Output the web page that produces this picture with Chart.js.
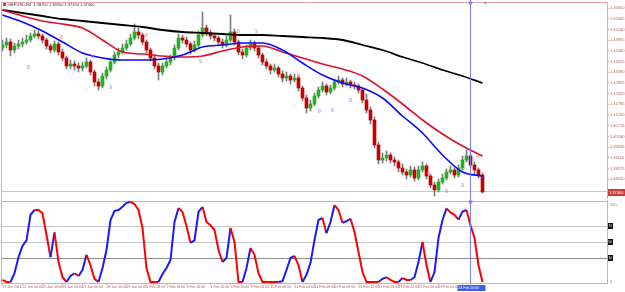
<!DOCTYPE html>
<html>
<head>
<meta charset="utf-8">
<script src="https://cdn.jsdelivr.net/npm/chart.js@4.4.1/dist/chart.umd.min.js"></script>
<style>
  html, body { margin: 0; padding: 0; background: #fff; }
  #wrap { position: relative; width: 625px; height: 292px; overflow: hidden; }
  canvas { position: absolute; left: 0; }
  #priceCanvas { top: 0; }
  #stochCanvas { top: 199px; }
</style>
</head>
<body>
<div id="wrap">
  <canvas id="priceCanvas" width="625" height="199"></canvas>
  <canvas id="stochCanvas" width="625" height="93"></canvas>
</div>
<script>
// H4 candles, one per index
const candleOpens = [
  1.4460, 1.4475, 1.4490, 1.4450, 1.4470, 1.4480, 1.4490, 1.4500, 1.4520, 1.4530,
  1.4520, 1.4500, 1.4470, 1.4450, 1.4480, 1.4440, 1.4410, 1.4370, 1.4380, 1.4370,
  1.4360, 1.4370, 1.4390, 1.4340, 1.4290, 1.4270, 1.4320, 1.4350, 1.4390, 1.4425,
  1.4440, 1.4460, 1.4480, 1.4510, 1.4540, 1.4525, 1.4490, 1.4450, 1.4410, 1.4370,
  1.4340, 1.4370, 1.4390, 1.4410, 1.4460, 1.4510, 1.4500, 1.4480, 1.4450, 1.4475,
  1.4525, 1.4560, 1.4535, 1.4520, 1.4510, 1.4490, 1.4475, 1.4500, 1.4540, 1.4490,
  1.4440, 1.4425, 1.4460, 1.4480, 1.4460, 1.4425, 1.4390, 1.4370, 1.4350, 1.4360,
  1.4330, 1.4310, 1.4320, 1.4300, 1.4310, 1.4260, 1.4210, 1.4160, 1.4180, 1.4220,
  1.4250, 1.4270, 1.4240, 1.4260, 1.4290, 1.4300, 1.4280, 1.4290, 1.4275, 1.4270,
  1.4250, 1.4200, 1.4150, 1.4100, 1.3975, 1.3900, 1.3910, 1.3925, 1.3900, 1.3890,
  1.3860, 1.3840, 1.3825, 1.3850, 1.3810, 1.3850, 1.3870, 1.3820, 1.3775, 1.3750,
  1.3790, 1.3810, 1.3840, 1.3850, 1.3825, 1.3860, 1.3900, 1.3920, 1.3875, 1.3850,
  1.3825
];
const candleCloses = [
  1.4475, 1.4490, 1.4450, 1.4470, 1.4480, 1.4490, 1.4500, 1.4520, 1.4530, 1.4520,
  1.4500, 1.4470, 1.4450, 1.4480, 1.4440, 1.4410, 1.4370, 1.4380, 1.4370, 1.4360,
  1.4370, 1.4390, 1.4340, 1.4290, 1.4270, 1.4320, 1.4350, 1.4390, 1.4425, 1.4440,
  1.4460, 1.4480, 1.4510, 1.4540, 1.4525, 1.4490, 1.4450, 1.4410, 1.4370, 1.4340,
  1.4370, 1.4390, 1.4410, 1.4460, 1.4510, 1.4500, 1.4480, 1.4450, 1.4475, 1.4525,
  1.4560, 1.4535, 1.4520, 1.4510, 1.4490, 1.4475, 1.4500, 1.4540, 1.4490, 1.4440,
  1.4425, 1.4460, 1.4480, 1.4460, 1.4425, 1.4390, 1.4370, 1.4350, 1.4360, 1.4330,
  1.4310, 1.4320, 1.4300, 1.4310, 1.4260, 1.4210, 1.4160, 1.4180, 1.4220, 1.4250,
  1.4270, 1.4240, 1.4260, 1.4290, 1.4300, 1.4280, 1.4290, 1.4275, 1.4270, 1.4250,
  1.4200, 1.4150, 1.4100, 1.3975, 1.3900, 1.3910, 1.3925, 1.3900, 1.3890, 1.3860,
  1.3840, 1.3825, 1.3850, 1.3810, 1.3850, 1.3870, 1.3820, 1.3775, 1.3750, 1.3790,
  1.3810, 1.3840, 1.3850, 1.3825, 1.3860, 1.3900, 1.3920, 1.3875, 1.3850, 1.3825,
  1.3740
];
const candleHighs = [
  1.4500, 1.4510, 1.4505, 1.4485, 1.4500, 1.4510, 1.4525, 1.4535, 1.4550, 1.4545,
  1.4530, 1.4510, 1.4480, 1.4495, 1.4490, 1.4455, 1.4420, 1.4400, 1.4395, 1.4385,
  1.4390, 1.4410, 1.4400, 1.4350, 1.4305, 1.4335, 1.4365, 1.4405, 1.4440, 1.4460,
  1.4480, 1.4500, 1.4530, 1.4580, 1.4560, 1.4535, 1.4500, 1.4460, 1.4425, 1.4385,
  1.4385, 1.4410, 1.4425, 1.4475, 1.4530, 1.4525, 1.4515, 1.4490, 1.4495, 1.4545,
  1.4640, 1.4575, 1.4550, 1.4535, 1.4520, 1.4505, 1.4520, 1.4625, 1.4555, 1.4500,
  1.4455, 1.4475, 1.4500, 1.4495, 1.4470, 1.4435, 1.4405, 1.4380, 1.4380, 1.4370,
  1.4345, 1.4340, 1.4330, 1.4330, 1.4320, 1.4270, 1.4225, 1.4200, 1.4235, 1.4265,
  1.4290, 1.4280, 1.4275, 1.4305, 1.4320, 1.4310, 1.4310, 1.4300, 1.4290, 1.4280,
  1.4260, 1.4230, 1.4165, 1.4115, 1.3990, 1.3935, 1.3945, 1.3935, 1.3915, 1.3900,
  1.3880, 1.3855, 1.3870, 1.3865, 1.3870, 1.3890, 1.3880, 1.3830, 1.3790, 1.3805,
  1.3830, 1.3855, 1.3870, 1.3860, 1.3875, 1.3920, 1.3950, 1.3930, 1.3890, 1.3860,
  1.3835
];
const candleLows = [
  1.4445, 1.4460, 1.4420, 1.4435, 1.4455, 1.4465, 1.4480, 1.4490, 1.4510, 1.4505,
  1.4485, 1.4455, 1.4435, 1.4440, 1.4425, 1.4395, 1.4355, 1.4355, 1.4350, 1.4340,
  1.4345, 1.4360, 1.4325, 1.4270, 1.4250, 1.4260, 1.4305, 1.4340, 1.4380, 1.4410,
  1.4430, 1.4450, 1.4470, 1.4500, 1.4505, 1.4475, 1.4435, 1.4395, 1.4355, 1.4300,
  1.4325, 1.4360, 1.4375, 1.4400, 1.4450, 1.4485, 1.4465, 1.4430, 1.4440, 1.4465,
  1.4515, 1.4520, 1.4505, 1.4495, 1.4475, 1.4460, 1.4465, 1.4490, 1.4475, 1.4425,
  1.4405, 1.4415, 1.4450, 1.4445, 1.4410, 1.4375, 1.4355, 1.4330, 1.4340, 1.4315,
  1.4290, 1.4295, 1.4280, 1.4290, 1.4245, 1.4195, 1.4135, 1.4145, 1.4170, 1.4210,
  1.4240, 1.4225, 1.4230, 1.4250, 1.4280, 1.4265, 1.4270, 1.4260, 1.4255, 1.4235,
  1.4185, 1.4135, 1.4080, 1.3960, 1.3880, 1.3885, 1.3895, 1.3885, 1.3870, 1.3840,
  1.3825, 1.3805, 1.3815, 1.3795, 1.3800, 1.3840, 1.3805, 1.3760, 1.3720, 1.3740,
  1.3780, 1.3800, 1.3830, 1.3810, 1.3815, 1.3850, 1.3890, 1.3860, 1.3830, 1.3810,
  1.3735
];

// stochastic main line, one value per candle
const stochValues = [
  2.5, 0, 0, 11, 31, 45, 52, 84, 90, 90,
  86, 59, 31, 62, 25, 6, 0, 7.5, 11, 7.5,
  15, 34, 21, 4, 0, 17.5, 40, 77.5, 89, 90,
  94, 99, 100, 97.5, 90, 67.5, 17.5, 0, 0, 0,
  10, 17.5, 27.5, 75, 92.5, 87.5, 70, 49, 52, 87.5,
  94, 75, 71, 65, 40, 25, 30, 67.5, 50, 0,
  0, 17.5, 42.5, 34, 11, 0, 0, 0, 0, 0,
  1, 15, 30, 32.5, 21, 0, 9, 24, 52.5, 77.5,
  80, 61, 75, 96, 90, 74, 76, 79, 62.5, 37.5,
  12.5, 0, 0, 0, 0, 4, 6, 2.5, 0, 0,
  5, 2.5, 2.5, 6, 25, 50, 21, 0, 12.5, 55,
  77.5, 92, 87, 84, 78, 88, 90, 71, 55, 21,
  0
];

// moving averages, read every 5 candles
const maIndex = [0, 5, 10, 15, 20, 25, 30, 35, 40, 45, 50, 55, 60, 65, 70, 75, 80, 85, 90, 95, 100, 105, 110, 115, 120];
const maFast = [1.4625, 1.4590, 1.4545, 1.4490, 1.4435, 1.4410, 1.4400, 1.4400, 1.4405, 1.4425, 1.4465, 1.4475, 1.4485,
                1.4485, 1.4450, 1.4385, 1.4325, 1.4285, 1.4260, 1.4210, 1.4120, 1.4035, 1.3925, 1.3840, 1.3820];
const maMid = [1.4650, 1.4620, 1.4595, 1.4580, 1.4560, 1.4500, 1.4440, 1.4430, 1.4420, 1.4415, 1.4420, 1.4445, 1.4465,
               1.4470, 1.4440, 1.4410, 1.4380, 1.4355, 1.4320, 1.4255, 1.4180, 1.4100, 1.4030, 1.3970, 1.3920];
const maLong = [1.4650, 1.4635, 1.4620, 1.4605, 1.4595, 1.4585, 1.4575, 1.4565, 1.4550, 1.4540, 1.4535, 1.4530, 1.4525,
                1.4525, 1.4520, 1.4515, 1.4510, 1.4500, 1.4475, 1.4450, 1.4415, 1.4385, 1.4350, 1.4320, 1.4285];

// sequential count marks
const countIndex = [14.75, 22.5, 36, 59, 63.5, 74, 106.5, 118.75, 6.5, 27, 49.5, 79.25, 82.5, 87, 111, 115];
const countPrice = [1.4510, 1.4415, 1.4520, 1.4540, 1.4540, 1.4320, 1.3830, 1.3915,
                    1.4360, 1.4260, 1.4390, 1.4140, 1.4145, 1.4195, 1.3740, 1.3770];
const countText = ['8', '8', '8', '8', '9', '8', '8', '9', '9', '9', '9', '9', '9', '9', '9', '9'];
const countSide = ['dn', 'dn', 'dn', 'dn', 'dn', 'dn', 'dn', 'dn', 'up', 'up', 'up', 'up', 'up', 'up', 'up', 'up'];

const priceTicks = [1.46600, 1.46065, 1.45530, 1.44995, 1.44460, 1.43925, 1.43390, 1.42855, 1.42320,
                    1.41785, 1.41250, 1.40715, 1.40180, 1.39645, 1.39110, 1.38575, 1.38040];
const stochLevels = [30, 50, 70, 100];

const dateIndex = [0, 5, 10, 15, 20, 26, 31, 36, 41, 46, 52, 57, 62, 67, 73, 78, 83, 89, 94, 99, 104, 109, 115];
const dateLabels = ['21 Jan 2016', '22 Jan 04:00', '25 Jan 00:00', '26 Jan 00:00', '27 Jan 00:00', '28 Jan 00:00',
                    '29 Jan 04:00', '1 Feb 08:00', '2 Feb 16:00', '3 Feb 16:00', '4 Feb 20:00', '5 Feb 20:00',
                    '9 Feb 00:00', '10 Feb 00:00', '11 Feb 04:00', '12 Feb 08:00', '15 Feb 08:00', '16 Feb 12:00',
                    '17 Feb 16:00', '18 Feb 20:00', '22 Feb 00:00', '23 Feb 04:00', '24 Feb 08:00'];

const cursorIndex = 117;
const cursorLabel = '24 Feb 16:00';
const titleText = 'GBPUSD,H4  1.38250 1.38350 1.37350 1.37400';

const pink = '#e6a4a4';
const axisText = '#b85c5c';
const xMin = -0.375;
const xMax = 151.125;

function half(v) { return Math.floor(v) + 0.5; }

function flatScale(scale) {
    scale.paddingTop = 0;
    scale.paddingBottom = 0;
    scale.paddingLeft = 0;
    scale.paddingRight = 0;
}

const priceOverlay = {
    id: 'priceOverlay',
    beforeDatasetsDraw(chart) {
        const { ctx, chartArea: a, scales: { y } } = chart;
        const py = half(y.getPixelForValue(candleCloses[candleCloses.length - 1]));
        ctx.save();
        ctx.strokeStyle = '#c8c8c8';
        ctx.lineWidth = 1;
        ctx.beginPath();
        ctx.moveTo(a.left, py);
        ctx.lineTo(a.right, py);
        ctx.stroke();
        ctx.restore();
    },
    afterDraw(chart) {
        const { ctx, chartArea: a, scales: { x, y } } = chart;
        ctx.save();

        ctx.font = '5px "Liberation Sans"';
        ctx.textAlign = 'center';
        ctx.textBaseline = 'middle';
        countIndex.forEach((idx, i) => {
            ctx.fillStyle = countSide[i] === 'up' ? '#7f7fff' : '#f07c7c';
            ctx.fillText(countText[i], x.getPixelForValue(idx), y.getPixelForValue(countPrice[i]));
        });

        ctx.strokeStyle = pink;
        ctx.lineWidth = 1;
        ctx.beginPath();
        ctx.moveTo(a.left + 0.5, chart.height);
        ctx.lineTo(a.left + 0.5, a.top + 0.5);
        ctx.lineTo(a.right, a.top + 0.5);
        ctx.stroke();

        const cx = half(x.getPixelForValue(cursorIndex));
        ctx.strokeStyle = '#7a7aff';
        ctx.beginPath();
        ctx.moveTo(cx, 0);
        ctx.lineTo(cx, chart.height);
        ctx.stroke();
        ctx.beginPath();
        ctx.arc(cx, a.top + 1, 1.5, 0, Math.PI * 2);
        ctx.stroke();
        ctx.fillStyle = '#999';
        ctx.fillRect(half(x.getPixelForValue(cursorIndex + 3.5)), a.top, 2, 2);

        ctx.font = '4px "Liberation Sans"';
        ctx.textAlign = 'left';
        ctx.textBaseline = 'top';
        ctx.fillStyle = '#d04040';
        ctx.fillRect(3, 3, 3, 3);
        ctx.fillStyle = '#333';
        ctx.fillText(titleText, 8, 3);

        const lastY = y.getPixelForValue(candleCloses[candleCloses.length - 1]);
        ctx.fillStyle = '#c83c3c';
        ctx.fillRect(a.right + 1, Math.round(lastY) - 3, chart.width - a.right - 1, 7);
        ctx.fillStyle = '#fff';
        ctx.textBaseline = 'middle';
        ctx.fillText(candleCloses[candleCloses.length - 1].toFixed(5), a.right + 2, Math.round(lastY) + 0.5);
        ctx.restore();
    }
};

const stochOverlay = {
    id: 'stochOverlay',
    afterDraw(chart) {
        const { ctx, chartArea: a, scales: { x, y } } = chart;
        ctx.save();
        ctx.strokeStyle = pink;
        ctx.lineWidth = 1;
        ctx.beginPath();
        ctx.moveTo(a.left + 0.5, 0);
        ctx.lineTo(a.left + 0.5, a.bottom);
        ctx.stroke();

        ctx.font = '4px "Liberation Sans"';
        ctx.textAlign = 'left';
        ctx.textBaseline = 'middle';
        ctx.fillStyle = axisText;
        ctx.fillText('100', a.right + 3, y.getPixelForValue(100) + 3);
        ctx.fillText('0', a.right + 3, y.getPixelForValue(0));
        [30, 50, 70].forEach(v => {
            const py = Math.round(y.getPixelForValue(v));
            ctx.fillStyle = '#111';
            ctx.fillRect(a.right + 1, py - 3, 5, 6);
            ctx.fillStyle = '#fff';
            ctx.font = '3px "Liberation Sans"';
            ctx.fillText(String(v), a.right + 1.5, py);
        });

        const cx = half(x.getPixelForValue(cursorIndex));
        ctx.strokeStyle = '#7a7aff';
        ctx.beginPath();
        ctx.moveTo(cx, 0);
        ctx.lineTo(cx, a.bottom + 1);
        ctx.stroke();
        ctx.beginPath();
        ctx.arc(cx, y.getPixelForValue(100), 1.5, 0, Math.PI * 2);
        ctx.stroke();

        ctx.fillStyle = '#3f5fe0';
        ctx.fillRect(cx - 13, a.bottom + 2, 28, 6);
        ctx.fillStyle = '#fff';
        ctx.font = '3.5px "Liberation Sans"';
        ctx.textAlign = 'left';
        ctx.fillText(cursorLabel, cx - 12, a.bottom + 5);
        ctx.restore();
    }
};

const bodyColors = candleCloses.map((c, i) => (c >= candleOpens[i] ? '#1fb41f' : '#c80000'));

new Chart(document.getElementById('priceCanvas'), {
    type: 'bar',
    data: {
        datasets: [
            {
                type: 'line',
                data: maIndex.map((x, i) => ({ x, y: maFast[i] })),
                borderColor: '#0a0aff',
                borderWidth: 1.6,
                pointRadius: 0,
                cubicInterpolationMode: 'monotone',
                order: 1
            },
            {
                type: 'line',
                data: maIndex.map((x, i) => ({ x, y: maMid[i] })),
                borderColor: '#e0102a',
                borderWidth: 1.6,
                pointRadius: 0,
                cubicInterpolationMode: 'monotone',
                order: 2
            },
            {
                type: 'line',
                data: maIndex.map((x, i) => ({ x, y: maLong[i] })),
                borderColor: '#000',
                borderWidth: 1.8,
                pointRadius: 0,
                cubicInterpolationMode: 'monotone',
                order: 3
            },
            {
                data: candleCloses.map((c, i) => ({ x: i, y: [candleOpens[i], c] })),
                backgroundColor: bodyColors,
                barThickness: 3,
                minBarLength: 1,
                grouped: false,
                order: 4
            },
            {
                data: candleCloses.map((c, i) => ({ x: i, y: [candleLows[i], candleHighs[i]] })),
                backgroundColor: '#7c7c7c',
                barThickness: 1,
                grouped: false,
                order: 5
            }
        ]
    },
    options: {
        responsive: false,
        animation: false,
        devicePixelRatio: 1,
        layout: { padding: { left: 1, top: 2, right: 0, bottom: 0 } },
        plugins: { legend: { display: false }, tooltip: { enabled: false } },
        scales: {
            x: {
                type: 'linear',
                min: xMin,
                max: xMax,
                offset: false,
                display: false,
                grid: { offset: false }
            },
            y: {
                position: 'right',
                min: 1.3705,
                max: 1.4690,
                afterBuildTicks: s => { s.ticks = priceTicks.map(v => ({ value: v })); },
                afterFit: s => { s.width = 18; flatScale(s); },
                grid: { drawOnChartArea: false, tickLength: 2, color: pink },
                border: { color: pink },
                ticks: {
                    padding: 1,
                    color: axisText,
                    font: { family: 'Liberation Sans', size: 4 },
                    callback: v => Number(v).toFixed(5)
                }
            }
        }
    },
    plugins: [priceOverlay]
});

new Chart(document.getElementById('stochCanvas'), {
    type: 'line',
    data: {
        datasets: [
            {
                data: stochValues.map((v, i) => ({ x: i, y: v })),
                borderWidth: 2,
                pointRadius: 0,
                borderColor: '#ff0000',
                segment: {
                    borderColor: c => (c.p1.parsed.y > c.p0.parsed.y ? '#1a1aff' : '#ff0000')
                }
            }
        ]
    },
    options: {
        responsive: false,
        animation: false,
        devicePixelRatio: 1,
        layout: { padding: { left: 1, top: 1, right: 0, bottom: 0 } },
        plugins: { legend: { display: false }, tooltip: { enabled: false } },
        scales: {
            x: {
                type: 'linear',
                min: xMin,
                max: xMax,
                afterBuildTicks: s => { s.ticks = dateIndex.map(v => ({ value: v })); },
                afterFit: s => { s.height = 9; flatScale(s); },
                grid: { drawOnChartArea: false, tickLength: 2, color: pink },
                border: { color: pink },
                ticks: {
                    autoSkip: false,
                    maxRotation: 0,
                    minRotation: 0,
                    align: 'start',
                    padding: 0,
                    color: axisText,
                    font: { family: 'Liberation Sans', size: 3.5 },
                    callback: (v, i) => dateLabels[i]
                }
            },
            y: {
                position: 'right',
                min: -1.25,
                max: 102.5,
                afterBuildTicks: s => { s.ticks = stochLevels.map(v => ({ value: v })); },
                afterFit: s => { s.width = 18; flatScale(s); },
                grid: {
                    drawTicks: false,
                    color: c => {
                        const v = c.tick ? c.tick.value : 0;
                        if (v === 100) return pink;
                        if (v === 30) return '#8c8c8c';
                        return '#c6c6c6';
                    }
                },
                border: { color: pink },
                ticks: { display: false }
            }
        }
    },
    plugins: [stochOverlay]
});
</script>
</body>
</html>
